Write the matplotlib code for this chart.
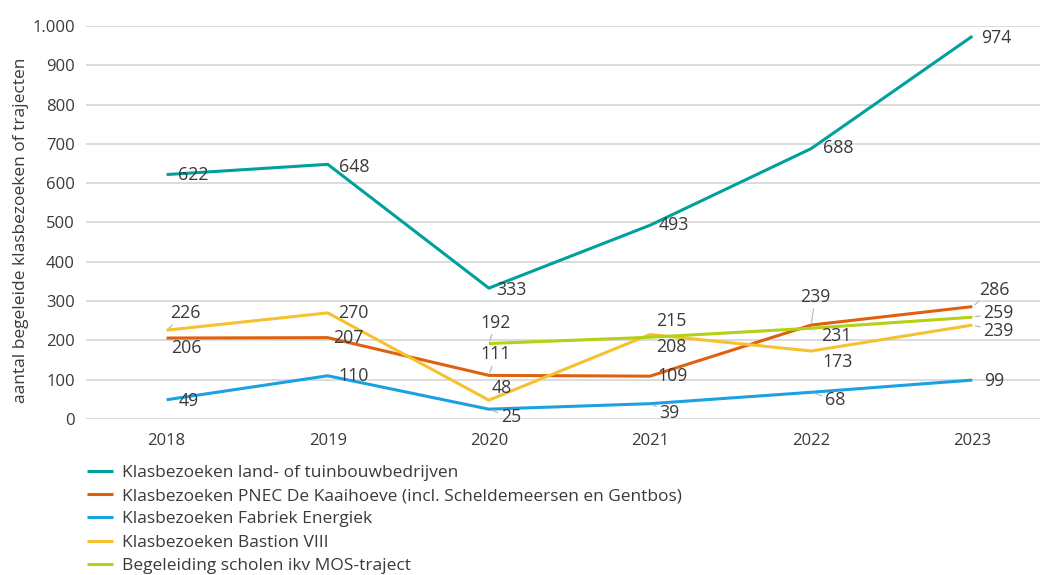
import numpy as np
import matplotlib
matplotlib.use("Agg")
import matplotlib.pyplot as plt

plt.rcParams['font.family'] = ['Open Sans', 'DejaVu Sans']

# data
years = ["2018", "2019", "2020", "2021", "2022", "2023"]
land_tuinbouw = [622, 648, 333, 493, 688, 974]
pnec = [206, 207, 111, 109, 239, 286]
fabriek = [49, 110, 25, 39, 68, 99]
bastion = [226, 270, 48, 215, 173, 239]
mos = [np.nan, np.nan, 192, 208, 231, 259]

series_names = [
    "Klasbezoeken land- of tuinbouwbedrijven",
    "Klasbezoeken PNEC De Kaaihoeve (incl. Scheldemeersen en Gentbos)",
    "Klasbezoeken Fabriek Energiek",
    "Klasbezoeken Bastion VIII",
    "Begeleiding scholen ikv MOS-traject",
]
colors = ["#00a09d", "#de6110", "#1ba1e2", "#f6c12f", "#b7cf14"]

# label offsets in pixels (dx, dy) and which points get a leader line
offsets = [
    [(27, 0), (27, -3), (22, -2), (24, 0), (27, 1), (24, -2)],
    [(20, -10), (21, 0), (7, 21), (23, 0), (4, 28), (22, 17)],
    [(22, -1), (26, 0), (22, -8), (19, -9), (24, -8), (22, -1)],
    [(19, 17), (26, 0), (13, 12), (21, 14), (26, -11), (26, -6)],
    [None, None, (7, 21), (21, -10), (25, -8), (26, 4)],
]
leaders = [
    [],
    [2, 4, 5],
    [2, 3, 4],
    [0, 5],
    [2, 5],
]

text_col = "#3a3a3a"

fig = plt.figure(figsize=(10.4, 5.75), dpi=100)
ax = fig.add_axes([0.0827, 0.2713, 0.9173, 0.6835])

x = np.arange(len(years))
all_series = [land_tuinbouw, pnec, fabriek, bastion, mos]
for vals, name, col, offs, lead in zip(all_series, series_names, colors, offsets, leaders):
    ax.plot(x, vals, color=col, lw=2.2, label=name, solid_capstyle='butt', zorder=3)
    for i, v in enumerate(vals):
        if np.isnan(v):
            continue
        props = None
        if i in lead:
            props = dict(arrowstyle='-', color='#b5b5b5', lw=0.8, shrinkA=0, shrinkB=2)
        ax.annotate(f"{int(v)}", (x[i], v), xytext=offs[i], textcoords='offset pixels',
                    ha='center', va='center', fontsize=12.8, color=text_col,
                    arrowprops=props, zorder=4)

ax.set_xlim(-0.5, 5.42)
ax.set_ylim(0, 1000)
ax.set_yticks(np.arange(0, 1001, 100))
ax.set_yticklabels([f"{t:,}".replace(",", ".") for t in range(0, 1001, 100)])
ax.set_xticks(x)
ax.set_xticklabels(years)
ax.grid(axis='y', color='#d9d9d9', lw=1.3)
ax.set_axisbelow(True)
for s in ax.spines.values():
    s.set_visible(False)
ax.tick_params(length=0, labelsize=12, colors=text_col)
ax.tick_params(axis='y', pad=8)
ax.tick_params(axis='x', pad=10)
ax.set_ylabel("aantal begeleide klasbezoeken of trajecten", fontsize=12.5, color=text_col)
ax.yaxis.set_label_coords(-0.06, 0.48)

fig.legend(loc='upper left', bbox_to_anchor=(0.075, 0.207), frameon=False,
           fontsize=12.5, handlelength=1.5, handletextpad=0.55, labelspacing=0.41,
           borderpad=0, labelcolor=text_col)

fig.savefig("out.png", dpi=100)
